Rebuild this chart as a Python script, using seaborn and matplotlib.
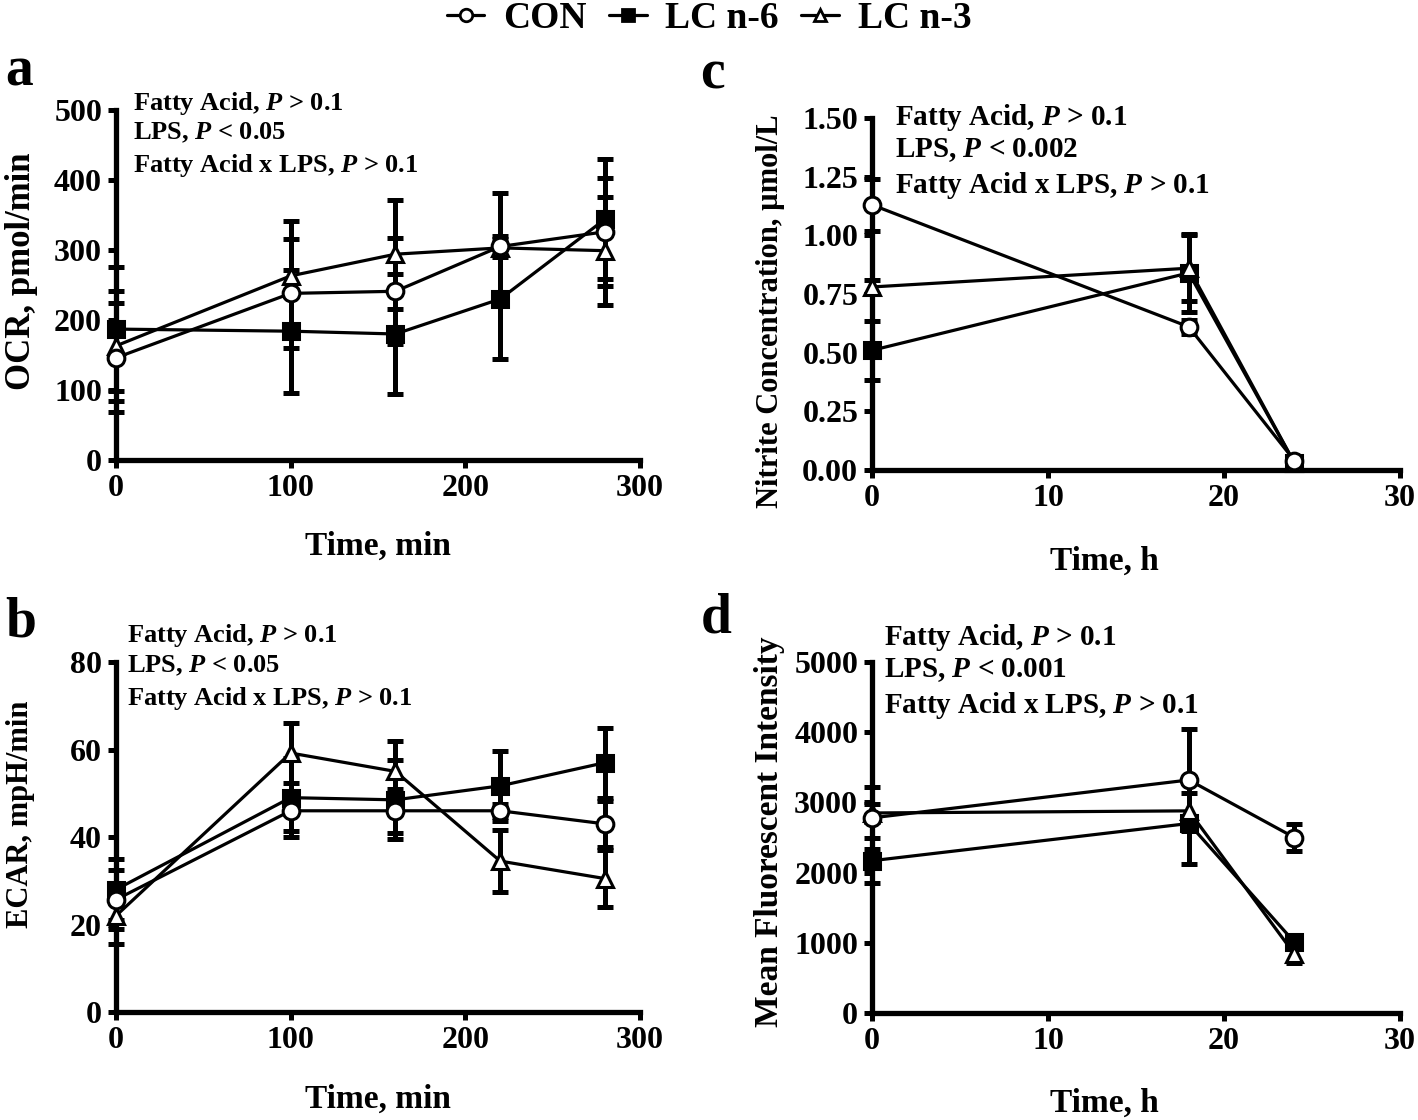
import matplotlib
matplotlib.use("Agg")
import matplotlib.pyplot as plt
from matplotlib.lines import Line2D
import numpy as np
import pandas as pd
import seaborn as sns

# groups and marker styles
groups = ["CON", "LC n-6", "LC n-3"]
markers = {"CON": "o", "LC n-6": "s", "LC n-3": "^"}
faces = {"CON": "white", "LC n-6": "black", "LC n-3": "white"}

# panel a / b: time in min
time_min = [0, 100, 160, 220, 280]
ocr_con = [146, 238, 241, 305, 326]
ocr_con_err = [78, 78, 76, 15, 77]
ocr_n6 = [187, 184, 180, 230, 344]
ocr_n6_err = [88, 88, 86, 86, 86]
ocr_n3 = [163, 263, 294, 303, 299]
ocr_n3_err = [79, 78, 78, 79, 77]

ecar_con = [25.7, 46, 46, 46, 43]
ecar_con_err = [6.7, 4.6, 5, 1.5, 5.3]
ecar_n6 = [28, 49, 48.5, 51.7, 57]
ecar_n6_err = [7, 9, 9, 8, 8]
ecar_n3 = [22, 59.2, 55, 34.5, 30.5]
ecar_n3_err = [6.5, 6.9, 7, 7, 6.5]

# panel c / d: time in h
time_h = [0, 18, 24]
nit_con = [1.13, 0.61, 0.04]
nit_con_err = [0.11, 0.03, 0.01]
nit_n6 = [0.51, 0.84, 0.03]
nit_n6_err = [0.125, 0.165, 0.01]
nit_n3 = [0.78, 0.86, 0.03]
nit_n3_err = [0.03, 0.14, 0.01]

mfi_con = [2780, 3320, 2500]
mfi_con_err = [440, 730, 190]
mfi_n6 = [2170, 2700, 1010]
mfi_n6_err = [320, 580, 50]
mfi_n3 = [2850, 2880, 840]
mfi_n3_err = [130, 260, 130]

sns.set_theme(style="ticks")
plt.rcParams["font.family"] = ["Liberation Serif", "DejaVu Serif"]
plt.rcParams["font.weight"] = "bold"
plt.rcParams["axes.labelweight"] = "bold"
plt.rcParams["text.color"] = "black"
plt.rcParams["axes.labelcolor"] = "black"
plt.rcParams["axes.edgecolor"] = "black"
plt.rcParams["xtick.color"] = "black"
plt.rcParams["ytick.color"] = "black"
plt.rcParams["mathtext.fontset"] = "custom"
plt.rcParams["mathtext.bfit"] = "Liberation Serif:italic:bold"
plt.rcParams["mathtext.it"] = "Liberation Serif:italic:bold"


def make_frame(t, vals, errs):
    rows = []
    for g, v, e in zip(groups, vals, errs):
        for ti, vi, ei in zip(t, v, e):
            rows.append({"time": ti, "value": vi, "err": ei, "group": g})
    return pd.DataFrame(rows)


def draw_panel(ax, df, xmax, ymax, ystep, yfmt, ylabel, xlabel, stats, stat_pos, fs_stat,
               ylab_pos, xlab_pos, fs_ylab=22):
    for g in ["LC n-6", "LC n-3", "CON"]:
        sub = df[df.group == g]
        ax.errorbar(sub.time, sub.value, yerr=sub.err, fmt="none", ecolor="black",
                     elinewidth=3.6, capsize=6, capthick=3.6, clip_on=False, zorder=2)
        sns.lineplot(data=sub, x="time", y="value", ax=ax, color="black", lw=2.3,
                     marker=markers[g], markersize=12 if g != "LC n-6" else 11,
                     markerfacecolor=faces[g], markeredgecolor="black", markeredgewidth=2.2,
                     errorbar=None, clip_on=False, zorder=3, legend=False)
    ax.set_xlim(0, xmax)
    ax.set_ylim(0, ymax)
    ax.set_xticks(np.arange(0, xmax + 1e-9, xmax / 3))
    ax.set_yticks(np.arange(0, ymax + 1e-9, ystep))
    ax.yaxis.set_major_formatter(plt.FormatStrFormatter(yfmt))
    ax.xaxis.set_major_formatter(plt.FormatStrFormatter("%d"))
    sns.despine(ax=ax)
    for s in ["left", "bottom"]:
        ax.spines[s].set_linewidth(3.8)
        ax.spines[s].set_color("black")
    ax.tick_params(length=6, width=3.6, labelsize=23, pad=4, colors="black")
    ax.set_ylabel(ylabel, fontsize=fs_ylab, fontweight="bold")
    ax.set_xlabel(xlabel, fontsize=24, fontweight="bold")
    ax.yaxis.set_label_coords(*ylab_pos)
    ax.xaxis.set_label_coords(*xlab_pos)
    x0, y0, dy = stat_pos
    for i, s in enumerate(stats):
        ax.text(x0, y0 - i * dy, s, transform=ax.transAxes, fontsize=fs_stat,
                fontweight="bold", va="top", ha="left", clip_on=False)


fig = plt.figure(figsize=(14.18, 11.2), dpi=100)
ax_a = fig.add_axes([0.0818, 0.5893, 0.3695, 0.3125])
ax_b = fig.add_axes([0.0818, 0.0964, 0.3695, 0.3125])
ax_c = fig.add_axes([0.615, 0.5804, 0.3723, 0.3142])
ax_d = fig.add_axes([0.615, 0.0955, 0.3723, 0.3134])

stats_005 = [r"Fatty Acid, $\mathbfit{P}$ > 0.1", r"LPS, $\mathbfit{P}$ < 0.05",
             r"Fatty Acid x LPS, $\mathbfit{P}$ > 0.1"]
stats_c = [r"Fatty Acid, $\mathbfit{P}$ > 0.1", r"LPS, $\mathbfit{P}$ < 0.002",
           r"Fatty Acid x LPS, $\mathbfit{P}$ > 0.1"]
stats_d = [r"Fatty Acid, $\mathbfit{P}$ > 0.1", r"LPS, $\mathbfit{P}$ < 0.001",
           r"Fatty Acid x LPS, $\mathbfit{P}$ > 0.1"]

draw_panel(ax_a, make_frame(time_min, [ocr_con, ocr_n6, ocr_n3], [ocr_con_err, ocr_n6_err, ocr_n3_err]),
           300, 500, 100, "%d", "OCR, pmol/min", "Time, min", stats_005,
           (0.032, 1.058, 0.089), 19, (-0.149, 0.54), (0.5, -0.203), fs_ylab=25)
draw_panel(ax_b, make_frame(time_min, [ecar_con, ecar_n6, ecar_n3], [ecar_con_err, ecar_n6_err, ecar_n3_err]),
           300, 80, 20, "%d", "ECAR, mpH/min", "Time, min", stats_005,
           (0.021, 1.113, 0.089), 19, (-0.155, 0.565), (0.5, -0.206))
draw_panel(ax_c, make_frame(time_h, [nit_con, nit_n6, nit_n3], [nit_con_err, nit_n6_err, nit_n3_err]),
           30, 1.5, 0.25, "%.2f", "Nitrite Concentration, µmol/L", "Time, h", stats_c,
           (0.044, 1.045, 0.096), 21, (-0.165, 0.45), (0.44, -0.216))
draw_panel(ax_d, make_frame(time_h, [mfi_con, mfi_n6, mfi_n3], [mfi_con_err, mfi_n6_err, mfi_n3_err]),
           30, 5000, 1000, "%d", "Mean Fluorescent Intensity", "Time, h", stats_d,
           (0.023, 1.113, 0.096), 21, (-0.165, 0.516), (0.44, -0.214), fs_ylab=24)

for lbl, x, y in [("a", 0.004, 0.924), ("b", 0.004, 0.432), ("c", 0.494, 0.921), ("d", 0.494, 0.435)]:
    fig.text(x, y, lbl, fontsize=40, fontweight="bold", va="baseline", ha="left")

handles = [Line2D([], [], color="black", lw=2.3, marker=markers[g], markersize=9,
                  markerfacecolor=faces[g], markeredgecolor="black", markeredgewidth=2)
           for g in groups]
fig.legend(handles, groups, loc="upper center", bbox_to_anchor=(0.5, 1.029), ncol=3,
           frameon=False, fontsize=27, handlelength=1.0, handletextpad=0.5, columnspacing=0.6)

fig.savefig("out.png", dpi=100)
